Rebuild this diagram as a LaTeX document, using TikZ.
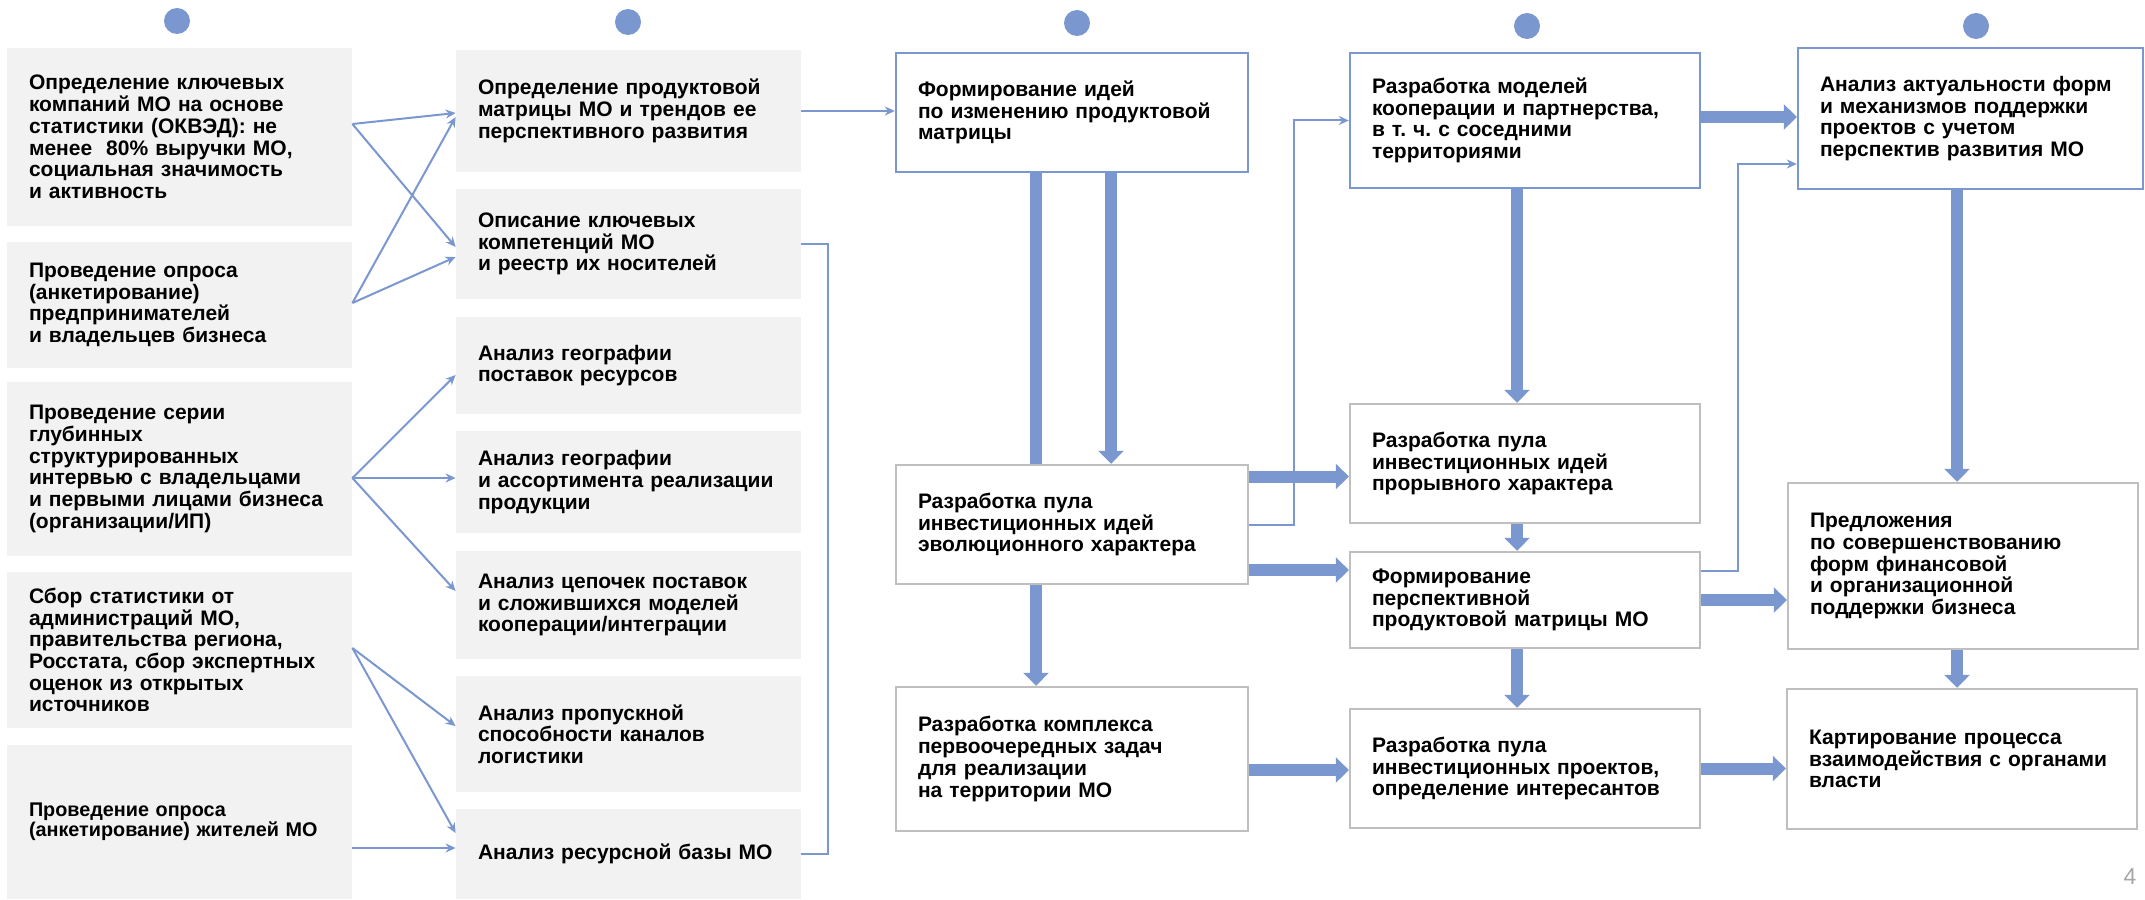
\documentclass[tikz,border=0pt]{standalone}
\usepackage{fontspec}
\setmainfont{Liberation Sans}
\usepackage{tikz}
\usetikzlibrary{arrows.meta,positioning,calc}

\definecolor{flowblue}{RGB}{122,151,208}
\definecolor{boxgray}{RGB}{242,242,242}
\definecolor{edgegray}{RGB}{191,191,191}

\tikzset{
  boxtext/.style={font=\bfseries\fontsize{10.5}{10.85}\selectfont, align=left, inner xsep=11pt, inner ysep=0pt},
  srcbox/.style={boxtext, fill=boxgray, text width=150.5pt},
  bluebox/.style={boxtext, fill=white, draw=flowblue, line width=1.2pt},
  graybox/.style={boxtext, fill=white, draw=edgegray, line width=1.2pt},
  stagedot/.style={circle, fill=flowblue, minimum size=13pt, inner sep=0pt},
  thinarr/.style={draw=flowblue, line width=1pt, -{Stealth[length=5pt,width=4.5pt]}},
  thinline/.style={draw=flowblue, line width=1pt},
  fatarr/.style={draw=flowblue, line width=6pt, -{Triangle[length=6.5pt,width=12.5pt]}},
  fatbar/.style={draw=flowblue, line width=6pt}
}

\begin{document}
\frenchspacing
\begin{tikzpicture}[x=0.5pt,y=-0.5pt]
        \useasboundingbox (0,0) rectangle (2145,899);

        % stage dots
        \node[stagedot] (dot1) at (177,21) {};
        \node[stagedot] (dot2) at (628,22) {};
        \node[stagedot] (dot3) at (1077,23) {};
        \node[stagedot] (dot4) at (1527,26) {};
        \node[stagedot] (dot5) at (1976,26) {};

        % left column: data sources
        \node[srcbox, minimum height=89pt] (src1) at (179.5,137) {Определение ключевых\\компаний МО на основе\\статистики (ОКВЭД): не\\менее\ \ 80\% выручки МО,\\социальная значимость\\и активность};
        \node[srcbox, minimum height=63pt] (src2) at (179.5,305) {Проведение опроса\\(анкетирование)\\предпринимателей\\и владельцев бизнеса};
        \node[srcbox, minimum height=87pt] (src3) at (179.5,469) {Проведение серии\\глубинных\\структурированных\\интервью с владельцами\\и первыми лицами бизнеса\\(организации/ИП)};
        \node[srcbox, minimum height=78pt] (src4) at (179.5,650) {Сбор статистики от\\администраций МО,\\правительства региона,\\Росстата, сбор экспертных\\оценок из открытых\\источников};
        \node[srcbox, minimum height=77pt, font=\bfseries\fontsize{9.9}{10.1}\selectfont] (src5) at (179.5,822) {Проведение опроса\\(анкетирование) жителей МО};

        % second column: analysis tasks
        \node[srcbox, minimum height=61pt] (task1) at (628.5,111) {Определение продуктовой\\матрицы МО и трендов ее\\перспективного развития};
        \node[srcbox, minimum height=55pt] (task2) at (628.5,244) {Описание ключевых\\компетенций МО\\и реестр их носителей};
        \node[srcbox, minimum height=48.5pt] (task3) at (628.5,365.5) {Анализ географии\\поставок ресурсов};
        \node[srcbox, minimum height=51pt] (task4) at (628.5,482) {Анализ географии\\и ассортимента реализации\\продукции};
        \node[srcbox, minimum height=54pt] (task5) at (628.5,605) {Анализ цепочек поставок\\и сложившихся моделей\\кооперации/интеграции};
        \node[srcbox, minimum height=58pt] (task6) at (628.5,734) {Анализ пропускной\\способности каналов\\логистики};
        \node[srcbox, minimum height=45pt] (task7) at (628.5,854) {Анализ ресурсной базы МО};

        % third column: ideas
        \node[bluebox, text width=154pt, minimum height=59.5pt] (idea1) at (1072,112.5) {Формирование идей\\по изменению продуктовой\\матрицы};
        \node[graybox, text width=154pt, minimum height=59.5pt] (idea2) at (1072,524.5) {Разработка пула\\инвестиционных идей\\эволюционного характера};
        \node[graybox, text width=154pt, minimum height=72pt] (idea3) at (1072,759) {Разработка комплекса\\первоочередных задач\\для реализации\\на территории МО};

        % fourth column: models and pools
        \node[bluebox, text width=153pt, minimum height=67.5pt] (pool1) at (1525,120.5) {Разработка моделей\\кооперации и партнерства,\\в т. ч. с соседними\\территориями};
        \node[graybox, text width=153pt, minimum height=59.5pt] (pool2) at (1525,463.5) {Разработка пула\\инвестиционных идей\\прорывного характера};
        \node[graybox, text width=153pt, minimum height=48pt] (pool3) at (1525,600) {Формирование\\перспективной\\продуктовой матрицы МО};
        \node[graybox, text width=153pt, minimum height=59.5pt] (pool4) at (1525,768.5) {Разработка пула\\инвестиционных проектов,\\определение интересантов};

        % right column: support
        \node[bluebox, text width=150.5pt, minimum height=70.5pt] (supp1) at (1970.5,118.5) {Анализ актуальности форм\\и механизмов поддержки\\проектов с учетом\\перспектив развития МО};
        \node[graybox, text width=153pt, minimum height=83pt] (supp2) at (1963,566) {Предложения\\по совершенствованию\\форм финансовой\\и организационной\\поддержки бизнеса};
        \node[graybox, text width=153pt, minimum height=70pt] (supp3) at (1962,759) {Картирование процесса\\взаимодействия с органами\\власти};

        % page number
        \node[text=gray!70, font=\fontsize{11.5}{12}\selectfont] (pagenum) at (2130,877) {4};

        % arcs from sources to tasks
        \draw[thinarr] ([yshift=6.5pt]src1.east) -- ([yshift=-1pt]task1.west);
        \draw[thinarr] ([yshift=6.5pt]src1.east) -- ([yshift=-1.5pt]task2.west);
        \draw[thinarr] ([yshift=1pt]src2.east) -- ([yshift=-3pt]task1.west);
        \draw[thinarr] ([yshift=1pt]src2.east) -- ([yshift=-6.5pt]task2.west);
        \draw[thinarr] ([yshift=-4.5pt]src3.east) -- ([yshift=-4.75pt]task3.west);
        \draw[thinarr] ([yshift=-4.5pt]src3.east) -- ([yshift=2pt]task4.west);
        \draw[thinarr] ([yshift=-4.5pt]src3.east) -- ([yshift=7pt]task5.west);
        \draw[thinarr] ([yshift=1pt]src4.east) -- ([yshift=4pt]task6.west);
        \draw[thinarr] ([yshift=1pt]src4.east) -- ([yshift=10.5pt]task7.west);
        \draw[thinarr] ([yshift=-13pt]src5.east) -- ([yshift=3pt]task7.west);

        % arcs from tasks to ideas
        \draw[thinarr] (task1.east) -- (task1.east -| idea1.west);
        \draw[thinline] (task2.east) -- ++(13.5pt,0) |- (task7.east);

        % ================== thick arcs ==================
        \draw[fatbar] ([xshift=-18pt]idea1.south) -- ([xshift=-18pt]idea2.north);
        \draw[fatarr] ([xshift=19.5pt]idea1.south) -- ([xshift=19.5pt]idea2.north);
        \draw[fatarr] ([xshift=-18pt]idea2.south) -- ([xshift=-18pt]idea3.north);
        \draw[fatarr] ([yshift=24pt]idea2.east) -- ([yshift=24pt]idea2.east -| pool2.west);
        \draw[fatarr] ([yshift=-22.75pt]idea2.east) -- ([yshift=-22.75pt]idea2.east -| pool3.west);
        \draw[fatarr] ([yshift=-5.5pt]idea3.east) -- ([yshift=-5.5pt]idea3.east -| pool4.west);

        \draw[fatarr] ([xshift=-4pt]pool1.south) -- ([xshift=-4pt]pool2.north);
        \draw[fatarr] ([xshift=-4pt]pool2.south) -- ([xshift=-4pt]pool3.north);
        \draw[fatarr] ([xshift=-4pt]pool3.south) -- ([xshift=-4pt]pool4.north);
        \draw[fatarr] ([yshift=1.75pt]pool1.east) -- ([yshift=1.75pt]pool1.east -| supp1.west);
        \draw[fatarr] (pool3.east) -- (pool3.east -| supp2.west);
        \draw[fatarr] (pool4.east) -- (pool4.east -| supp3.west);

        \draw[fatarr] ([xshift=-3pt]supp2.north |- supp1.south) -- ([xshift=-3pt]supp2.north);
        \draw[fatarr] ([xshift=-3pt]supp2.south) -- ([xshift=-3pt]supp2.south |- supp3.north);
        % ================================================

        % thin elbow arcs
        \draw[thinarr] (idea2.east) -| ([xshift=-27.5pt]pool1.west) -- (pool1.west);
        \draw[thinarr] ([yshift=14.5pt]pool3.east) -| ([xshift=-29.5pt,yshift=-22.75pt]supp1.west) -- ([yshift=-22.75pt]supp1.west);

    \end{tikzpicture}
\end{document}
